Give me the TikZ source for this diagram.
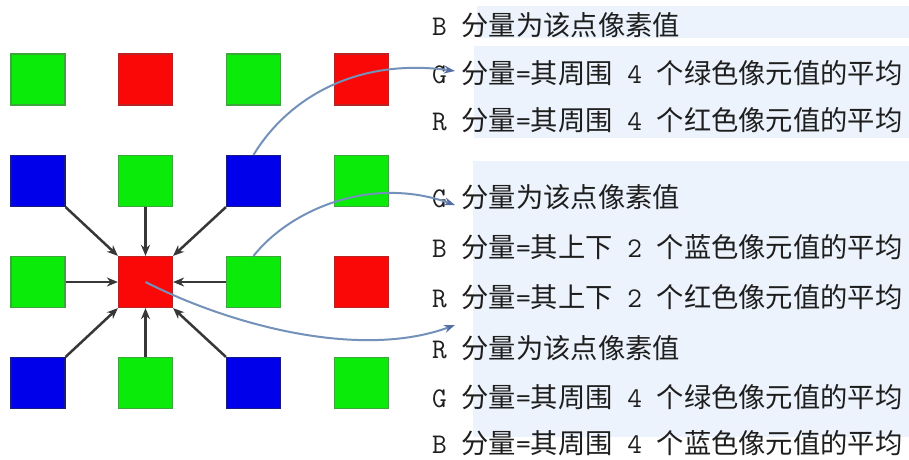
\documentclass[tikz,border=0pt]{standalone}
\usepackage{fontspec}
\newfontfamily\cjk{Noto Sans CJK SC}
\usetikzlibrary{arrows.meta}
\definecolor{pgreen}{RGB}{10,235,10}
\definecolor{pgreenb}{RGB}{60,165,60}
\definecolor{pred}{RGB}{250,8,8}
\definecolor{predb}{RGB}{185,35,35}
\definecolor{pblue}{RGB}{0,0,235}
\definecolor{pblueb}{RGB}{25,25,130}
\definecolor{panel}{RGB}{237,243,252}
\definecolor{curveblue}{RGB}{115,145,185}
\definecolor{tipblue}{RGB}{85,110,165}
\definecolor{arrgray}{RGB}{55,55,55}
\definecolor{txt}{RGB}{30,30,30}
\newcommand\latx[1]{{\ttfamily\fontsize{28.5}{30}\selectfont #1}}
\begin{document}
\begin{tikzpicture}[x=1pt,y=-1pt,
  sq/.style={minimum width=54pt,minimum height=51pt,inner sep=0pt,line width=1.2pt},
  gsq/.style={sq,fill=pgreen,draw=pgreenb},
  rsq/.style={sq,fill=pred,draw=predb},
  bsq/.style={sq,fill=pblue,draw=pblueb},
  arr/.style={draw=arrgray,line width=2.5pt,-{Stealth[length=11pt,width=9pt]}},
  curv/.style={draw=curveblue,line width=2pt,-{Stealth[length=11pt,width=8pt,color=tipblue]}},
  lbl/.style={anchor=base west,inner sep=0pt,text=txt,font=\cjk\fontsize{27.3}{30}\selectfont}]
\useasboundingbox (0,0) rectangle (909,459);
\fill[white] (0,0) rectangle (909,459);
% text panels
\fill[panel] (477,6) rectangle (909,38);
\fill[panel] (474,46) rectangle (909,138);
\fill[panel] (473,161) rectangle (909,437);
% squares: s<col><row>
\node[gsq] (s11) at (38,79.5) {};
\node[rsq] (s21) at (145.5,79.5) {};
\node[gsq] (s31) at (253.5,79.5) {};
\node[rsq] (s41) at (361.5,79.5) {};
\node[bsq] (s12) at (38,181) {};
\node[gsq] (s22) at (145.5,181) {};
\node[bsq] (s32) at (253.5,181) {};
\node[gsq] (s42) at (361.5,181) {};
\node[gsq] (s13) at (38,282) {};
\node[rsq] (s23) at (145.5,282) {};
\node[gsq] (s33) at (253.5,282) {};
\node[rsq] (s43) at (361.5,282) {};
\node[bsq] (s14) at (38,383) {};
\node[gsq] (s24) at (145.5,383) {};
\node[bsq] (s34) at (253.5,383) {};
\node[gsq] (s44) at (361.5,383) {};
% black arrows to centre red
\draw[arr] (s12.south east) -- (s23.north west);
\draw[arr] (s22.south) -- (s23.north);
\draw[arr] (s32.south west) -- (s23.north east);
\draw[arr] (s13.east) -- (s23.west);
\draw[arr] (s33.west) -- (s23.east);
\draw[arr] (s14.north east) -- (s23.south west);
\draw[arr] (s24.north) -- (s23.south);
\draw[arr] (s34.north west) -- (s23.south east);
% text lines
\node[lbl] (t1) at (432,35.4) {\latx{B }分量为该点像素值};
\node[lbl] (t2) at (432,83.4) {\latx{G }分量\latx{=}其周围\latx{ 4 }个绿色像元值的平均};
\node[lbl] (t3) at (432,130.4) {\latx{R }分量\latx{=}其周围\latx{ 4 }个红色像元值的平均};
\node[lbl] (t4) at (432,207.4) {\latx{G }分量为该点像素值};
\node[lbl] (t5) at (432,257.4) {\latx{B }分量\latx{=}其上下\latx{ 2 }个蓝色像元值的平均};
\node[lbl] (t6) at (432,307.4) {\latx{R }分量\latx{=}其上下\latx{ 2 }个红色像元值的平均};
\node[lbl] (t7) at (432,358.4) {\latx{R }分量为该点像素值};
\node[lbl] (t8) at (432,407.4) {\latx{G }分量\latx{=}其周围\latx{ 4 }个绿色像元值的平均};
\node[lbl] (t9) at (432,453) {\latx{B }分量\latx{=}其周围\latx{ 4 }个蓝色像元值的平均};
% blue curves
\coordinate (e1) at (455,71);
\coordinate (e2) at (455,205);
\coordinate (e3) at (455,325);
\draw[curv] (s32.north) .. controls (290,95) and (360,58) .. (e1);
\draw[curv] (s33.north) .. controls (290,210) and (370,175) .. (e2);
\draw[curv] (s23.center) .. controls (230,325) and (360,360) .. (e3);
\end{tikzpicture}
\end{document}
